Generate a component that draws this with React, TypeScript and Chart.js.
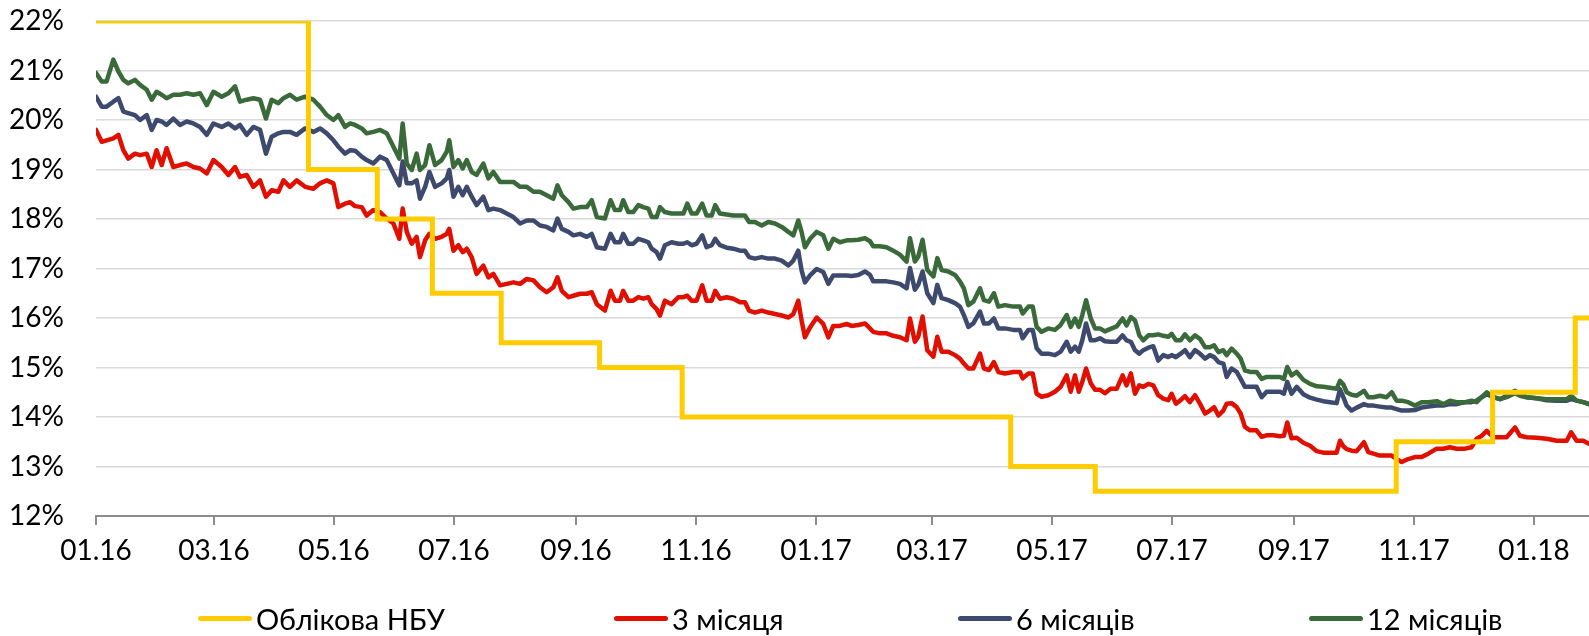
import React, { useEffect, useRef } from 'react';
import { Chart, registerables } from 'chart.js';

Chart.register(...registerables);

// Days since 01.01.2016
const days = [
  0, 2.9, 5.4, 8.8, 11.4, 13.9, 16.4, 19.8, 22.4, 25.8, 28.3, 30.8, 33.4, 35.9, 39.3, 42.7, 46.1, 49.5, 52.9, 56.3,
  59.7, 63.9, 67.3, 70.7, 73.2, 76.6, 80.0, 83.4, 86.4, 89.3, 92.7, 95.3, 98.6, 102.0, 106.3, 110.5, 113.9, 117.3, 120.7, 123.2,
  126.6, 129.2,
  131.7, 135.1, 137.6, 141.0, 144.4, 147.8, 151.2, 154.2, 155.9, 158.0, 160.5, 163.0, 164.7, 167.3, 169.5, 172.4, 175.7, 178.3,
  179.6, 181.7, 184.2, 186.4, 188.5, 191.0, 193.5, 196.9, 199.5, 202.0, 205.4, 208.8, 212.2, 215.6, 219.0, 222.4, 225.7, 229.1,
  232.5, 234.6, 236.8, 240.2, 242.7, 246.1, 249.5, 252.0, 254.6,
  258.7, 261.6, 263.8, 266.4, 268.0, 270.6, 273.1, 275.7, 278.2, 280.8, 282.5, 285.0, 286.7, 289.2, 292.6, 296.0, 298.6, 300.6,
  302.8, 305.3, 308.2, 310.4, 313.0, 314.8, 317.2, 320.6, 324.0, 327.4, 329.9, 332.0, 335.0, 338.4, 341.8, 345.2, 348.6, 352.0,
  354.5, 357.0, 358.7, 360.4, 363.0, 366.4, 369.7, 372.3, 374.8, 378.2, 381.6,
  384.1, 387.5, 390.9, 393.5, 395.1, 398.5, 401.9, 405.3, 408.7, 412.1, 413.8, 416.3, 418.0, 420.2, 422.6, 425.7, 427.7, 429.9,
  433.3, 436.7, 439.2, 441.2, 443.5, 446.0, 449.4, 451.4, 454.0, 456.5, 458.7, 462.1, 466.3, 469.7, 471.1, 474.0, 476.2, 478.2,
  480.7, 484.1, 487.5, 490.4, 493.5, 495.5, 497.7, 499.6, 501.4, 503.3, 505.7, 507.9, 510.4,
  512.9, 515.8, 518.9, 521.9, 523.9, 526.1, 528.2, 530.4, 532.4, 535.0, 537.5, 540.0, 542.6, 545.1, 546.8, 549.0, 551.4, 553.6,
  556.1, 558.7, 561.2, 563.8, 566.3, 568.4, 570.6, 573.1, 574.8, 577.3, 579.9, 581.9, 584.1, 586.7, 590.0, 592.6, 595.1, 598.5,
  601.9, 603.9, 605.6, 607.8, 610.4, 613.8, 617.2, 620.6, 623.9, 627.3, 630.7,
  632.4, 634.1, 635.8, 638.3, 640.9, 644.6, 646.8, 649.4, 652.7, 656.1, 658.7, 661.2, 663.8, 667.1, 670.5, 673.9, 677.3, 681.6,
  684.9, 688.3, 691.7, 696.0, 699.3, 701.9, 704.4, 707.0, 710.4, 713.8, 717.1, 721.4, 723.9, 727.3, 732.4, 737.5, 742.6, 747.7,
  749.9, 752.7, 756.1, 759.0,
];

const rate3m = [
  19.80, 19.56, 19.59, 19.63, 19.70, 19.39, 19.22, 19.32, 19.29, 19.32, 19.05, 19.39, 19.09, 19.43, 19.05, 19.09, 19.12, 19.05, 19.02, 18.92,
  19.19, 19.05, 18.89, 19.05, 18.85, 18.89, 18.65, 18.78, 18.45, 18.58, 18.55, 18.78, 18.65, 18.78, 18.65, 18.61, 18.72, 18.78, 18.72, 18.24,
  18.31, 18.34,
  18.26, 18.24, 18.07, 18.18, 18.14, 18.01, 17.91, 17.60, 18.21, 17.74, 17.50, 17.64, 17.23, 17.57, 17.70, 17.60, 17.64, 17.70,
  17.80, 17.36, 17.47, 17.33, 17.40, 17.23, 16.89, 17.06, 16.82, 16.89, 16.66, 16.69, 16.72, 16.69, 16.79, 16.76, 16.62, 16.52,
  16.62, 16.82, 16.55, 16.42, 16.45, 16.49, 16.49, 16.52, 16.28,
  16.15, 16.55, 16.35, 16.35, 16.55, 16.35, 16.35, 16.42, 16.39, 16.42, 16.28, 16.18, 16.05, 16.35, 16.28, 16.42, 16.42, 16.45,
  16.35, 16.35, 16.66, 16.35, 16.35, 16.55, 16.39, 16.42, 16.39, 16.32, 16.32, 16.15, 16.11, 16.15, 16.11, 16.08, 16.05, 16.01,
  16.08, 16.35, 15.95, 15.61, 15.81, 16.01, 15.88, 15.61, 15.84, 15.84, 15.88,
  15.84, 15.86, 15.89, 15.79, 15.72, 15.69, 15.69, 15.64, 15.61, 15.55, 15.99, 15.52, 15.62, 16.03, 15.35, 15.22, 15.62, 15.32,
  15.32, 15.25, 15.18, 15.08, 14.98, 14.98, 15.28, 14.98, 14.95, 15.11, 14.91, 14.88, 14.91, 14.91, 14.78, 14.88, 14.88, 14.47,
  14.41, 14.44, 14.51, 14.61, 14.84, 14.51, 14.84, 14.51, 14.71, 14.98, 14.68, 14.55, 14.55,
  14.48, 14.57, 14.57, 14.84, 14.64, 14.88, 14.47, 14.64, 14.61, 14.67, 14.64, 14.44, 14.37, 14.34, 14.47, 14.27, 14.34, 14.42,
  14.30, 14.44, 14.27, 14.07, 14.13, 14.20, 14.03, 14.13, 14.27, 14.28, 14.20, 14.07, 13.80, 13.73, 13.73, 13.60, 13.63, 13.63,
  13.61, 13.62, 13.89, 13.57, 13.58, 13.48, 13.42, 13.31, 13.28, 13.28, 13.28,
  13.52, 13.41, 13.35, 13.32, 13.31, 13.49, 13.29, 13.26, 13.22, 13.22, 13.22, 13.15, 13.09, 13.15, 13.19, 13.19, 13.26, 13.36,
  13.36, 13.39, 13.36, 13.36, 13.39, 13.56, 13.62, 13.72, 13.59, 13.59, 13.59, 13.79, 13.62, 13.59, 13.58, 13.56, 13.52, 13.52,
  13.69, 13.52, 13.52, 13.46,
];

const rate6m = [
  20.47, 20.27, 20.27, 20.37, 20.44, 20.17, 20.14, 20.10, 20.00, 20.10, 19.80, 20.00, 19.97, 19.90, 20.03, 19.90, 19.97, 19.93, 19.86, 19.70,
  19.93, 19.86, 19.93, 19.83, 19.90, 19.70, 19.86, 19.80, 19.32, 19.66, 19.73, 19.76, 19.76, 19.70, 19.83, 19.76, 19.83, 19.73, 19.59, 19.46,
  19.32, 19.39,
  19.38, 19.26, 19.19, 19.12, 19.26, 19.19, 18.92, 18.68, 19.16, 18.72, 18.72, 18.78, 18.41, 18.65, 18.95, 18.65, 18.72, 18.82,
  18.99, 18.45, 18.65, 18.48, 18.65, 18.45, 18.28, 18.45, 18.18, 18.21, 18.18, 18.11, 18.04, 17.91, 17.97, 17.97, 17.87, 17.84,
  17.77, 18.01, 17.80, 17.74, 17.67, 17.70, 17.64, 17.70, 17.43,
  17.40, 17.70, 17.53, 17.53, 17.70, 17.50, 17.50, 17.60, 17.57, 17.53, 17.40, 17.33, 17.20, 17.47, 17.53, 17.50, 17.50, 17.53,
  17.47, 17.50, 17.67, 17.43, 17.47, 17.60, 17.47, 17.42, 17.40, 17.36, 17.36, 17.23, 17.20, 17.23, 17.20, 17.20, 17.16, 17.06,
  17.16, 17.36, 16.96, 16.72, 16.86, 16.99, 16.93, 16.69, 16.86, 16.86, 16.86,
  16.85, 16.87, 16.94, 16.87, 16.74, 16.74, 16.74, 16.72, 16.69, 16.60, 17.01, 16.57, 16.67, 16.94, 16.50, 16.30, 16.67, 16.40,
  16.36, 16.30, 16.23, 16.06, 15.82, 15.89, 16.13, 15.89, 15.89, 15.99, 15.79, 15.79, 15.76, 15.76, 15.59, 15.76, 15.76, 15.39,
  15.28, 15.28, 15.25, 15.32, 15.52, 15.32, 15.42, 15.32, 15.55, 15.89, 15.55, 15.55, 15.59,
  15.53, 15.52, 15.52, 15.65, 15.55, 15.52, 15.35, 15.28, 15.35, 15.40, 15.43, 15.14, 15.25, 15.21, 15.25, 15.21, 15.28, 15.35,
  15.21, 15.35, 15.28, 15.18, 15.25, 15.21, 15.11, 15.08, 14.81, 14.98, 14.91, 14.77, 14.61, 14.61, 14.61, 14.40, 14.51, 14.51,
  14.51, 14.47, 14.71, 14.47, 14.61, 14.46, 14.39, 14.35, 14.32, 14.30, 14.28,
  14.56, 14.40, 14.23, 14.13, 14.19, 14.26, 14.23, 14.23, 14.21, 14.19, 14.19, 14.16, 14.13, 14.13, 14.14, 14.19, 14.21, 14.23,
  14.23, 14.26, 14.26, 14.30, 14.30, 14.33, 14.40, 14.46, 14.40, 14.36, 14.43, 14.53, 14.46, 14.40, 14.38, 14.34, 14.33, 14.33,
  14.36, 14.33, 14.30, 14.26,
];

const rate12m = [
  20.95, 20.78, 20.78, 21.22, 20.98, 20.81, 20.74, 20.81, 20.71, 20.61, 20.41, 20.57, 20.51, 20.44, 20.51, 20.51, 20.54, 20.51, 20.54, 20.30,
  20.57, 20.47, 20.54, 20.68, 20.37, 20.41, 20.44, 20.41, 20.03, 20.41, 20.34, 20.44, 20.51, 20.41, 20.47, 20.41, 20.27, 20.10, 20.00, 20.10,
  19.86, 19.93,
  19.90, 19.83, 19.73, 19.76, 19.80, 19.73, 19.46, 19.22, 19.93, 19.12, 18.99, 19.32, 18.99, 19.09, 19.49, 19.09, 19.19, 19.36,
  19.59, 19.05, 19.19, 19.02, 19.19, 18.95, 18.89, 19.12, 18.82, 18.95, 18.75, 18.75, 18.75, 18.65, 18.65, 18.55, 18.55, 18.48,
  18.41, 18.68, 18.48, 18.34, 18.21, 18.24, 18.24, 18.38, 18.04,
  18.01, 18.38, 18.18, 18.18, 18.38, 18.14, 18.14, 18.28, 18.24, 18.21, 18.04, 18.04, 18.24, 18.14, 18.11, 18.11, 18.11, 18.31,
  18.11, 18.11, 18.31, 18.07, 18.07, 18.28, 18.11, 18.09, 18.07, 18.07, 18.07, 17.94, 17.94, 17.87, 17.94, 17.91, 17.84, 17.74,
  17.67, 17.97, 17.74, 17.43, 17.60, 17.74, 17.67, 17.40, 17.60, 17.53, 17.57,
  17.57, 17.58, 17.61, 17.55, 17.45, 17.45, 17.43, 17.36, 17.28, 17.14, 17.61, 17.14, 17.24, 17.58, 16.97, 16.84, 17.21, 16.97,
  16.94, 16.87, 16.74, 16.60, 16.26, 16.33, 16.60, 16.36, 16.33, 16.50, 16.23, 16.26, 16.23, 16.23, 16.09, 16.23, 16.23, 15.82,
  15.72, 15.79, 15.76, 15.86, 16.06, 15.82, 15.99, 15.82, 16.06, 16.36, 15.99, 15.79, 15.79,
  15.73, 15.78, 15.83, 15.99, 15.85, 16.02, 15.95, 15.65, 15.55, 15.65, 15.65, 15.67, 15.64, 15.62, 15.68, 15.55, 15.55, 15.67,
  15.55, 15.65, 15.58, 15.41, 15.41, 15.45, 15.31, 15.35, 15.25, 15.38, 15.28, 15.18, 14.94, 14.91, 14.91, 14.77, 14.81, 14.81,
  14.81, 14.77, 15.01, 14.84, 14.91, 14.75, 14.67, 14.62, 14.61, 14.59, 14.57,
  14.73, 14.66, 14.50, 14.45, 14.43, 14.53, 14.40, 14.40, 14.43, 14.40, 14.50, 14.33, 14.33, 14.30, 14.23, 14.30, 14.30, 14.32,
  14.26, 14.33, 14.30, 14.30, 14.33, 14.30, 14.40, 14.50, 14.40, 14.36, 14.40, 14.48, 14.43, 14.40, 14.38, 14.36, 14.36, 14.36,
  14.43, 14.33, 14.30, 14.26,
];

// NBU discount rate: day on which each level starts
const nbuDays = [0, 108, 143, 171, 206, 256, 298, 465, 508, 661, 710, 752, 759];
const nbuRates = [22, 19, 18, 16.5, 15.5, 15, 14, 13, 12.5, 13.5, 14.5, 16, 16];

const tickDays = [0, 60, 121, 182, 244, 305, 366, 425, 486, 547, 609, 670, 731];
const tickLabels = ['01.16', '03.16', '05.16', '07.16', '09.16', '11.16', '01.17', '03.17', '05.17', '07.17', '09.17', '11.17', '01.18'];

const seriesNames = ['Облікова НБУ', '3 місяця', '6 місяців', '12 місяців'];
const seriesColors = ['#FFCC00', '#E00F00', '#3D4A6E', '#3A6A3A'];

const FONT = 'Lato, "Open Sans", sans-serif';

export default function App() {
  const ref = useRef<HTMLCanvasElement>(null);

  useEffect(() => {
    if (!ref.current) return;
    const toPts = (vals: number[]) =>
      days.slice(0, vals.length).map((d, i) => ({ x: d, y: vals[i] }));
    const nbuPts = nbuDays.map((d, i) => ({ x: d, y: nbuRates[i] }));

    const chart = new Chart(ref.current, {
      type: 'line',
      data: {
        datasets: [
          {
            label: seriesNames[0],
            data: nbuPts,
            borderColor: seriesColors[0],
            backgroundColor: seriesColors[0],
            borderWidth: 5,
            stepped: true,
            borderJoinStyle: 'miter',
            borderCapStyle: 'butt',
            order: 0,
          },
          {
            label: seriesNames[1],
            data: toPts(rate3m),
            borderColor: seriesColors[1],
            backgroundColor: seriesColors[1],
            borderWidth: 4.5,
            order: 3,
          },
          {
            label: seriesNames[2],
            data: toPts(rate6m),
            borderColor: seriesColors[2],
            backgroundColor: seriesColors[2],
            borderWidth: 4.5,
            order: 2,
          },
          {
            label: seriesNames[3],
            data: toPts(rate12m),
            borderColor: seriesColors[3],
            backgroundColor: seriesColors[3],
            borderWidth: 4.5,
            order: 1,
          },
        ],
      },
      options: {
        responsive: false,
        animation: false,
        parsing: false as any,
        normalized: true,
        layout: { padding: { top: 21, left: 9, right: 0, bottom: 0 } },
        elements: {
          point: { radius: 0, hoverRadius: 0 },
          line: { tension: 0, borderJoinStyle: 'round', borderCapStyle: 'round' },
        },
        plugins: {
          legend: { display: false },
          tooltip: { enabled: false },
        },
        scales: {
          x: {
            type: 'linear',
            min: 0,
            max: 759,
            afterBuildTicks: (scale: any) => {
              scale.ticks = tickDays.map((v) => ({ value: v }));
            },
            afterFit: (scale: any) => {
              scale.height = 120;
            },
            ticks: {
              autoSkip: false,
              maxRotation: 0,
              padding: 9,
              color: '#000',
              font: { family: FONT, size: 28 },
              callback: (_v: any, i: number) => tickLabels[i] ?? '',
            },
            grid: {
              drawOnChartArea: false,
              drawTicks: true,
              tickLength: 9,
              color: '#8C8C8C',
              lineWidth: 2,
            },
            border: { display: true, color: '#8C8C8C', width: 2 },
          },
          y: {
            min: 12,
            max: 22,
            afterFit: (scale: any) => {
              scale.width = 87;
            },
            ticks: {
              stepSize: 1,
              padding: 0,
              crossAlign: 'far',
              color: '#000',
              font: { family: FONT, size: 28 },
              callback: (v: any) => `${v}%`,
            },
            grid: { color: '#D9D9D9', lineWidth: 1.5, drawTicks: false },
            border: { display: false },
          },
        },
      },
    });
    return () => chart.destroy();
  }, []);

  const legendLeft = [198, 614, 958, 1309];

  return (
    <div
      style={{
        position: 'absolute',
        left: 0,
        top: 0,
        width: 1589,
        height: 636,
        background: '#fff',
        overflow: 'hidden',
      }}
    >
      <canvas ref={ref} width={1589} height={636} style={{ display: 'block', width: 1589, height: 636 }} />
      {seriesNames.map((name, i) => (
        <div
          key={name}
          style={{
            position: 'absolute',
            left: legendLeft[i],
            top: 601,
            height: 35,
            display: 'flex',
            alignItems: 'center',
            fontFamily: FONT,
            fontSize: 29,
            lineHeight: '35px',
            color: '#000',
            whiteSpace: 'nowrap',
          }}
        >
          <span
            style={{
              display: 'inline-block',
              width: 54,
              height: 5,
              borderRadius: 3,
              background: seriesColors[i],
              marginRight: 4,
            }}
          />
          <span>{name}</span>
        </div>
      ))}
    </div>
  );
}
